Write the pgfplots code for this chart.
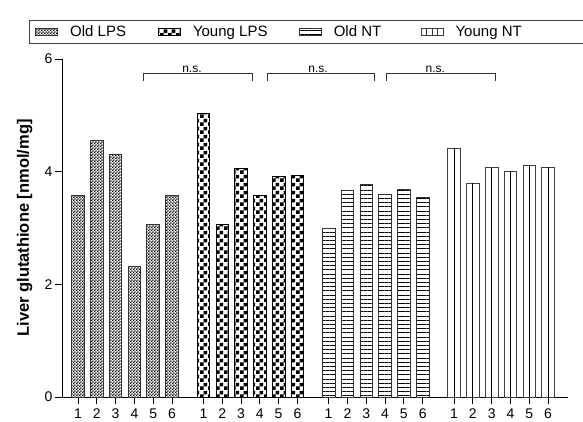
\documentclass[border=0pt]{standalone}
\usepackage{pgfplots}
\pgfplotsset{compat=1.18}
\usepackage{fontspec}
\setmainfont{Liberation Sans}
\usetikzlibrary{patterns,patterns.meta}

\pgfdeclarepatternformonly{finechecker}{\pgfqpoint{0pt}{0pt}}{\pgfqpoint{3.2pt}{3.2pt}}{\pgfqpoint{3.2pt}{3.2pt}}{%
  \pgfpathrectangle{\pgfqpoint{0pt}{0pt}}{\pgfqpoint{1.6pt}{1.6pt}}%
  \pgfpathrectangle{\pgfqpoint{1.6pt}{1.6pt}}{\pgfqpoint{1.6pt}{1.6pt}}%
  \pgfusepath{fill}}
\pgfdeclarepatternformonly{bigchecker}{\pgfqpoint{0pt}{0pt}}{\pgfqpoint{8pt}{8pt}}{\pgfqpoint{8pt}{8pt}}{%
  \pgfpathrectangle{\pgfqpoint{0pt}{0pt}}{\pgfqpoint{4pt}{4pt}}%
  \pgfpathrectangle{\pgfqpoint{4pt}{4pt}}{\pgfqpoint{4pt}{4pt}}%
  \pgfusepath{fill}}

\pgfplotsset{
  barleg/.style={legend image code/.code={\draw[##1] (0pt,-3.5pt) rectangle (22pt,3.5pt);}},
  vlineleg/.style={legend image code/.code={\draw[##1] (0pt,-3.5pt) rectangle (22pt,3.5pt);
    \draw[black!80, line width=0.8pt] (5.5pt,-3.5pt) -- (5.5pt,3.5pt) (11pt,-3.5pt) -- (11pt,3.5pt) (16.5pt,-3.5pt) -- (16.5pt,3.5pt);}},
}

\pgfplotstableread{
x y
0 3.57
1 4.55
2 4.30
3 2.31
4 3.07
5 3.57
}\oldlps
\pgfplotstableread{
x y
6.67 5.04
7.67 3.07
8.67 4.06
9.67 3.57
10.67 3.92
11.67 3.94
}\younglps
\pgfplotstableread{
x y
13.33 3.00
14.33 3.67
15.33 3.78
16.33 3.60
17.33 3.69
18.33 3.55
}\oldnt
\pgfplotstableread{
x y
20 4.42
21 3.80
22 4.07
23 4.01
24 4.12
25 4.08
}\youngnt

\begin{document}
\begin{tikzpicture}
\path[use as bounding box] (-62pt,-24pt) rectangle (521pt,397pt);
\begin{axis}[
  scale only axis, width=506pt, height=338pt,
  xmin=-0.85, xmax=26.06, ymin=0, ymax=6,
  axis lines*=left,
  axis line style={black, line width=0.9pt},
  ytick={0,2,4,6},
  xtick={0,1,2,3,4,5,6.67,7.67,8.67,9.67,10.67,11.67,13.33,14.33,15.33,16.33,17.33,18.33,20,21,22,23,24,25},
  xticklabels={1,2,3,4,5,6,1,2,3,4,5,6,1,2,3,4,5,6,1,2,3,4,5,6},
  tick align=outside, major tick length=7pt,
  tick style={black, line width=0.8pt},
  minor tick num=0,
  /pgf/number format/assume math mode=true,
  tick label style={font=\fontsize{14}{16}\selectfont},
  yticklabel style={xshift=1pt},
  xticklabel style={yshift=-1pt},
  ylabel={\textbf{Liver glutathione [nmol/mg]}},
  ylabel style={font=\fontsize{16.5}{18}\selectfont, at={(axis description cs:-0.074,0.5)}, anchor=center},
  legend style={at={(-0.0652,1.1155)}, anchor=north west, legend columns=4,
    draw=black!75, line width=0.8pt, font=\fontsize{15}{17}\selectfont,
    inner xsep=6pt, inner ysep=3.5pt,
    /tikz/every odd column/.append style={column sep=10pt},
    /tikz/every even column/.append style={column sep=0pt}},
  legend cell align=left,
]
\addplot[ybar, bar width=0.67, bar shift=0pt, draw=black!80, line width=0.8pt, pattern=finechecker, pattern color=black, barleg] table {\oldlps};
\addlegendentry{\makebox[86pt][l]{Old LPS}}
\addplot[ybar, bar width=0.67, bar shift=0pt, draw=black, line width=0.8pt, pattern=bigchecker, pattern color=black, barleg] table {\younglps};
\addlegendentry{\makebox[104pt][l]{Young LPS}}
\addplot[ybar, bar width=0.67, bar shift=0pt, draw=black!80, line width=0.8pt, pattern={Lines[angle=0,distance=4.2pt,line width=0.9pt]}, pattern color=black, barleg] table {\oldnt};
\addlegendentry{\makebox[85pt][l]{Old NT}}
\addplot[ybar, bar width=0.67, bar shift=0pt, draw=black!75, line width=0.8pt, fill=white, vlineleg] table {\youngnt};
\addlegendentry{\makebox[140pt][l]{Young NT}}
\addplot[ycomb, black, line width=0.8pt, mark=none, forget plot] table {\youngnt};

\draw[black!80, line width=0.8pt] (axis cs:3.5,5.61) |- (axis cs:9.26,5.74) -- (axis cs:9.26,5.61);
\draw[black!80, line width=0.8pt] (axis cs:10.05,5.61) |- (axis cs:15.74,5.74) -- (axis cs:15.74,5.61);
\draw[black!80, line width=0.8pt] (axis cs:16.4,5.61) |- (axis cs:22.2,5.74) -- (axis cs:22.2,5.61);
\node[font=\fontsize{12}{14}\selectfont, anchor=base, inner sep=0pt, yshift=0.8pt] at (axis cs:6.06,5.74) {n.s.};
\node[font=\fontsize{12}{14}\selectfont, anchor=base, inner sep=0pt, yshift=0.8pt] at (axis cs:12.77,5.74) {n.s.};
\node[font=\fontsize{12}{14}\selectfont, anchor=base, inner sep=0pt, yshift=0.8pt] at (axis cs:19.0,5.74) {n.s.};
\end{axis}
\end{tikzpicture}
\end{document}
